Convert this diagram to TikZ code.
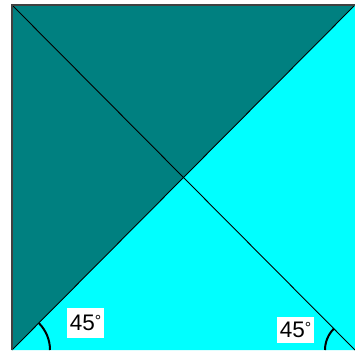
\documentclass[tikz,border=0pt]{standalone}
\usepackage{fontspec}
\setmainfont{Liberation Sans}
\definecolor{tealdark}{HTML}{008080}
\definecolor{cyanlight}{HTML}{00FFFF}
\definecolor{edgegray}{HTML}{404040}
\tikzset{
  diag/.style={black, line width=0.9pt},
  border/.style={edgegray, line width=1.6pt},
  anglearc/.style={black, line width=2pt},
  lbl/.style={fill=white, inner sep=0pt, minimum width=37pt, font=\fontsize{22.5}{22.5}\selectfont}
}
\newcommand{\degsym}{{\fontsize{16}{16}\selectfont\raisebox{4pt}{°}}}
\begin{document}
\begin{tikzpicture}[x=1pt,y=1pt]
\useasboundingbox (0,0) rectangle (355,350);
\clip (0,0) rectangle (355,350);
\fill[white] (0,0) rectangle (355,350);
\coordinate (TL) at (12,345);
\coordinate (TR) at (355,345);
\coordinate (BL) at (12,0);
\coordinate (BR) at (355,0);
\fill[tealdark] (TL) -- (TR) -- (BL) -- cycle;
\fill[cyanlight] (TR) -- (BR) -- (BL) -- cycle;
\draw[diag] (TL) -- (BR);
\draw[diag] (BL) -- (TR);
\draw[border] (BL) -- (TL) -- (TR);
\draw[anglearc] (BL) ++(38,0) arc[start angle=0,end angle=45,radius=38];
\draw[anglearc] (BR) ++(135:30) arc[start angle=135,end angle=180,radius=30];
\node[lbl, minimum height=30pt] (a1) at (85.5,26.7) {45\degsym};
\node[lbl, minimum height=26pt] (a2) at (295.5,20) {45\degsym};
\end{tikzpicture}
\end{document}
